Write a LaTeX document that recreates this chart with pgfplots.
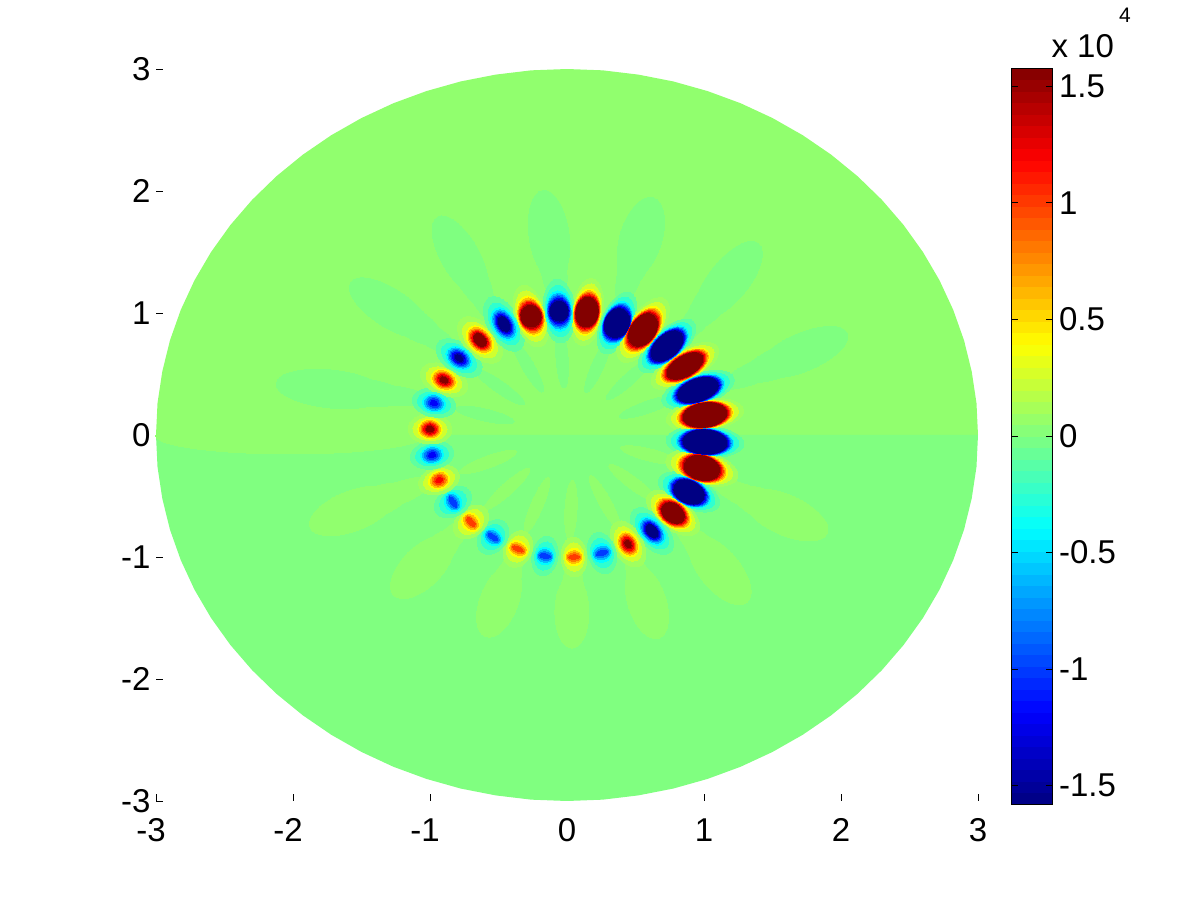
\documentclass[border=0pt]{standalone}
\usepackage{pgfplots}
\usepackage{fontspec}
\setmainfont{Liberation Sans}
\pgfplotsset{compat=1.18}

% background levels of the two half disks
\definecolor{uppergreen}{RGB}{145,255,110}
\definecolor{lowergreen}{RGB}{128,255,128}

% faint lobes outside and inside the ring: x y z a b r (a, b in px along/across r)
\pgfplotstableread{
x y z a b r
-0.131 1.639 0 45 20 98
-0.116 1.520 0 38 16 98
-0.102 1.402 0 40 13 98
0.540 1.615 0 42 21 73
0.503 1.483 0 36 16 73
0.467 1.352 0 35 12 73
1.182 1.270 0 47 20 51
1.087 1.143 0 42 16 51
0.993 1.016 0 42 12 51
1.723 0.680 0 48 19 23
1.566 0.606 0 42 15 23
1.409 0.533 0 42 11 23
-0.781 1.467 0 45 19 120
-0.711 1.323 0 40 15 120
-0.642 1.180 0 40 11 120
-1.292 1.041 0 47 19 147
-1.160 0.942 0 42 15 147
-1.029 0.844 0 42 11 147
-1.723 0.377 0 55 19 174
-1.522 0.352 0 48 14 174
-1.321 0.328 0 45 10 174
-1.569 -0.623 0.055 45 20 21
-1.416 -0.557 0.055 40 15 21
-1.263 -0.492 0.055 42 11 21
-1.058 -1.082 0.055 40 20 45
-0.974 -0.987 0.055 34 15 45
-0.891 -0.893 0.055 35 11 45
-0.496 -1.361 0.055 38 19 69
-0.456 -1.238 0.055 30 14 69
-0.416 -1.115 0.055 30 10 69
0.036 -1.451 0.055 36 17 90
0.040 -1.340 0.055 28 13 90
0.044 -1.230 0.055 25 10 90
0.584 -1.369 0.055 38 19 -72
0.551 -1.262 0.055 30 14 -72
0.518 -1.156 0.055 30 10 -72
1.117 -1.107 0.055 42 20 -50
1.036 -1.004 0.055 35 15 -50
0.956 -0.902 0.055 35 11 -50
1.599 -0.656 0.055 45 20 -24
1.467 -0.586 0.055 38 15 -24
1.336 -0.516 0.055 40 11 -24
-2.022 -0.008 0.055 134 18 0
-0.036 0.631 0 30 6 94
-0.285 0.566 0 30 6 120
-0.489 0.393 0 30 6 145
-0.599 0.164 0 30 6 167
0.226 0.574 0 30 6 66
0.453 0.459 0 30 6 42
0.591 0.230 0 30 6 19
0.029 -0.615 0.055 30 6 87
-0.219 -0.574 0.055 30 6 -113
-0.438 -0.443 0.055 30 6 -138
-0.577 -0.221 0.055 30 6 -160
0.277 -0.549 0.055 30 6 -61
0.482 -0.393 0.055 30 6 -37
0.606 -0.164 0.055 30 6 -14
}\lobes

% ring of blobs, contour by contour from the outside in
\pgfplotstableread{
x y z a b r
0.146 1.008 0.1 34 16 81
0.365 0.918 -0.1 33 16 66
0.555 0.861 0.1 38 17 54
0.730 0.730 -0.1 36 16 42
0.861 0.566 0.1 38 16 30
0.956 0.369 -0.1 38 16 19
1.007 0.164 0.1 39 16 8
1.007 -0.057 -0.1 39 16 -3
0.985 -0.270 0.1 37 17 -14
0.891 -0.467 -0.1 33 16 -25
0.774 -0.639 0.1 31 16 -37
0.620 -0.787 -0.1 28 15 -49
0.445 -0.893 0.1 25 15 -61
0.255 -0.967 -0.1 21 14 -74
0.051 -1.000 0.1 20 13 -87
-0.161 -0.992 -0.1 20 13 -100
-0.358 -0.934 0.1 19 14 -113
-0.540 -0.836 -0.1 19 14 -126
-0.701 -0.713 0.1 20 14 -138
-0.832 -0.549 -0.1 20 14 -149
-0.934 -0.369 0.1 21 14 -160
-0.985 -0.164 -0.1 22 14 -171
-1.000 0.049 0.1 22 15 178
-0.971 0.262 -0.1 22 14 167
-0.898 0.451 0.1 25 15 156
-0.788 0.631 -0.1 26 15 145
-0.635 0.779 0.1 28 16 133
-0.460 0.910 -0.1 30 16 120
-0.263 0.975 0.1 32 16 107
-0.058 1.016 -0.1 32 16 94
0.146 1.008 0.25 28.4 14.2 81
0.365 0.918 -0.25 27.6 14.4 66
0.555 0.861 0.25 32.2 15.2 54
0.730 0.730 -0.25 30.8 14.2 42
0.861 0.566 0.25 32.6 14 30
0.956 0.369 -0.25 32.8 14.2 19
1.007 0.164 0.25 33.8 14.4 8
1.007 -0.057 -0.25 33.8 14.4 -3
0.985 -0.270 0.25 31.4 15.2 -14
0.891 -0.467 -0.25 27.8 14.2 -25
0.774 -0.639 0.25 25.5 13.8 -37
0.620 -0.787 -0.25 21.5 11.8 -49
0.445 -0.893 0.25 18.8 11.6 -61
0.255 -0.967 -0.25 15 11 -74
0.051 -1.000 0.25 14.3 10.2 -87
-0.161 -0.992 -0.25 14.3 10.2 -100
-0.358 -0.934 0.25 13.5 11 -113
-0.540 -0.836 -0.25 13.5 11 -126
-0.701 -0.713 0.25 14.3 11 -138
-0.832 -0.549 -0.25 14.3 11 -149
-0.934 -0.369 0.25 16 10.5 -160
-0.985 -0.164 -0.25 16.8 10.5 -171
-1.000 0.049 0.25 17.1 11.6 178
-0.971 0.262 -0.25 16.8 10.5 167
-0.898 0.451 0.25 18.8 11.6 156
-0.788 0.631 -0.25 19.6 11.6 145
-0.635 0.779 0.25 21.5 12.6 133
-0.460 0.910 -0.25 23.2 12.6 120
-0.263 0.975 0.25 26 14 107
-0.058 1.016 -0.25 25.8 13.8 94
0.146 1.008 0.4 23.3 13.6 81
0.365 0.918 -0.4 22.7 13.9 66
0.555 0.861 0.4 27 14.6 54
0.730 0.730 -0.4 26 13.6 42
0.861 0.566 0.4 27.7 13.2 30
0.956 0.369 -0.4 28 13.6 19
1.007 0.164 0.4 29 13.9 8
1.007 -0.057 -0.4 29 13.9 -3
0.985 -0.270 0.4 26.3 14.6 -14
0.891 -0.467 -0.4 23 13.6 -25
0.774 -0.639 0.4 20.5 12.8 -37
0.620 -0.787 -0.4 16.3 10.4 -49
0.445 -0.893 0.4 13.7 10.1 -61
0.255 -0.967 -0.4 9.3 9.8 -74
0.051 -1.000 0.4 8.7 9 -87
-0.161 -0.992 -0.4 8.7 9 -100
-0.358 -0.934 0.4 8.1 9.8 -113
-0.540 -0.836 -0.4 8.1 9.8 -126
-0.701 -0.713 0.4 8.7 9.8 -138
-0.832 -0.549 -0.4 8.7 9.8 -149
-0.934 -0.369 0.4 10.9 8.8 -160
-0.985 -0.164 -0.4 11.6 8.8 -171
-1.000 0.049 0.4 12.2 10.1 178
-0.971 0.262 -0.4 11.6 8.8 167
-0.898 0.451 0.4 13.7 10.1 156
-0.788 0.631 -0.4 14.4 10.1 145
-0.635 0.779 0.4 16.3 11.1 133
-0.460 0.910 -0.4 17.8 11.1 120
-0.263 0.975 0.4 20.6 13.2 107
-0.058 1.016 -0.4 20.2 12.8 94
0.146 1.008 0.6 21.5 13 81
0.365 0.918 -0.6 21 13.5 66
0.555 0.861 0.6 25 14 54
0.730 0.730 -0.6 24.5 13 42
0.861 0.566 0.6 26 12.5 30
0.956 0.369 -0.6 26.5 13 19
1.007 0.164 0.6 27.5 13.5 8
1.007 -0.057 -0.6 27.5 13.5 -3
0.985 -0.270 0.6 24.5 14 -14
0.891 -0.467 -0.6 21.5 13 -25
0.774 -0.639 0.6 18.8 12 -37
0.620 -0.787 -0.6 14.3 9.1 -49
0.445 -0.893 0.6 11.8 8.7 -61
0.255 -0.967 -0.6 6.7 8.5 -74
0.051 -1.000 0.6 6.3 7.8 -87
-0.161 -0.992 -0.6 6.3 7.8 -100
-0.358 -0.934 0.6 5.9 8.5 -113
-0.540 -0.836 -0.6 5.9 8.5 -126
-0.701 -0.713 0.6 6.3 8.5 -138
-0.832 -0.549 -0.6 6.3 8.5 -149
-0.934 -0.369 0.6 9 7.3 -160
-0.985 -0.164 -0.6 9.5 7.3 -171
-1.000 0.049 0.6 10.5 8.7 178
-0.971 0.262 -0.6 9.5 7.3 167
-0.898 0.451 0.6 11.8 8.7 156
-0.788 0.631 -0.6 12.4 8.7 145
-0.635 0.779 0.6 14.3 9.8 133
-0.460 0.910 -0.6 15.6 9.8 120
-0.263 0.975 0.6 18.5 12.5 107
-0.058 1.016 -0.6 18 12 94
0.146 1.008 0.8 19.9 12.5 81
0.365 0.918 -0.8 19.6 13.1 66
0.555 0.861 0.8 23.3 13.5 54
0.730 0.730 -0.8 23.2 12.5 42
0.861 0.566 0.8 24.6 11.9 30
0.956 0.369 -0.8 25.2 12.5 19
1.007 0.164 0.8 26.2 13.1 8
1.007 -0.057 -0.8 26.2 13.1 -3
0.985 -0.270 0.8 22.9 13.5 -14
0.891 -0.467 -0.8 20.2 12.5 -25
0.774 -0.639 0.8 17.3 11.3 -37
0.620 -0.787 -0.8 12.5 8 -49
0.445 -0.893 0.8 10 7.4 -61
0.255 -0.967 -0.8 4.5 7.2 -74
0.051 -1.000 0.8 4.2 6.6 -87
-0.161 -0.992 -0.8 4.2 6.6 -100
-0.358 -0.934 0.8 3.9 7.2 -113
-0.540 -0.836 -0.8 3.9 7.2 -126
-0.701 -0.713 0.8 4.2 7.2 -138
-0.832 -0.549 -0.8 4.2 7.2 -149
-0.934 -0.369 0.8 7.2 5.9 -160
-0.985 -0.164 -0.8 7.7 5.9 -171
-1.000 0.049 0.8 9 7.4 178
-0.971 0.262 -0.8 7.7 5.9 167
-0.898 0.451 0.8 10 7.4 156
-0.788 0.631 -0.8 10.6 7.4 145
-0.635 0.779 0.8 12.5 8.6 133
-0.460 0.910 -0.8 13.7 8.6 120
-0.263 0.975 0.8 16.7 11.9 107
-0.058 1.016 -0.8 16.1 11.3 94
0.146 1.008 1 18.6 12.1 81
0.365 0.918 -1 18.4 12.8 66
0.555 0.861 1 21.9 13.1 54
0.730 0.730 -1 22.1 12.1 42
0.861 0.566 1 23.4 11.4 30
0.956 0.369 -1 24.1 12.1 19
1.007 0.164 1 25.1 12.8 8
1.007 -0.057 -1 25.1 12.8 -3
0.985 -0.270 1 21.6 13.1 -14
0.891 -0.467 -1 19.1 12.1 -25
0.774 -0.639 1 16 10.7 -37
0.620 -0.787 -1 11 7 -49
0.445 -0.893 1 8.6 6.3 -61
0.255 -0.967 -1 2.6 5.9 -74
0.051 -1.000 1 2.4 5.4 -87
-0.161 -0.992 -1 2.4 5.4 -100
-0.358 -0.934 1 2.2 5.9 -113
-0.540 -0.836 -1 2.2 5.9 -126
-0.701 -0.713 1 2.4 5.9 -138
-0.832 -0.549 -1 2.4 5.9 -149
-0.934 -0.369 1 5.4 4.4 -160
-0.985 -0.164 -1 5.8 4.4 -171
-1.000 0.049 1 7.7 6.3 178
-0.971 0.262 -1 5.8 4.4 167
-0.898 0.451 1 8.6 6.3 156
-0.788 0.631 -1 9 6.3 145
-0.635 0.779 1 11 7.5 133
-0.460 0.910 -1 12 7.5 120
-0.263 0.975 1 15.2 11.4 107
-0.058 1.016 -1 14.5 10.7 94
0.146 1.008 1.2 17.3 11.7 81
0.365 0.918 -1.2 17.2 12.5 66
0.555 0.861 1.2 20.5 12.7 54
0.730 0.730 -1.2 21 11.7 42
0.861 0.566 1.2 22.2 10.9 30
0.956 0.369 -1.2 23 11.7 19
1.007 0.164 1.2 24 12.5 8
1.007 -0.057 -1.2 24 12.5 -3
0.985 -0.270 1.2 20.3 12.7 -14
0.891 -0.467 -1.2 18 11.7 -25
0.774 -0.639 1.2 14.8 10.1 -37
0.620 -0.787 -1.2 9.7 6.2 -49
0.445 -0.893 1.2 7 5.2 -61
-0.934 -0.369 1.2 3.4 2.7 -160
-0.985 -0.164 -1.2 3.6 2.7 -171
-1.000 0.049 1.2 6.3 5.2 178
-0.971 0.262 -1.2 3.6 2.7 167
-0.898 0.451 1.2 7 5.2 156
-0.788 0.631 -1.2 7.4 5.2 145
-0.635 0.779 1.2 9.7 6.6 133
-0.460 0.910 -1.2 10.6 6.6 120
-0.263 0.975 1.2 13.7 10.9 107
-0.058 1.016 -1.2 12.9 10.1 94
0.146 1.008 1.4 16.2 11.4 81
0.365 0.918 -1.4 16.1 12.3 66
0.555 0.861 1.4 19.3 12.4 54
0.730 0.730 -1.4 20 11.4 42
0.861 0.566 1.4 21.1 10.5 30
0.956 0.369 -1.4 22 11.4 19
1.007 0.164 1.4 23 12.3 8
1.007 -0.057 -1.4 23 12.3 -3
0.985 -0.270 1.4 19.2 12.4 -14
0.891 -0.467 -1.4 17 11.4 -25
0.774 -0.639 1.4 13.6 9.5 -37
0.620 -0.787 -1.4 8.4 5.3 -49
0.445 -0.893 1.4 5.5 4.1 -61
-1.000 0.049 1.4 4.9 4.1 178
-0.898 0.451 1.4 5.5 4.1 156
-0.788 0.631 -1.4 5.8 4.1 145
-0.635 0.779 1.4 8.4 5.7 133
-0.460 0.910 -1.4 9.1 5.7 120
-0.263 0.975 1.4 12.4 10.5 107
-0.058 1.016 -1.4 11.4 9.5 94
0.146 1.008 1.57 15 11 81
0.365 0.918 -1.57 15 12 66
0.555 0.861 1.57 18 12 54
0.730 0.730 -1.57 19 11 42
0.861 0.566 1.57 20 10 30
0.956 0.369 -1.57 21 11 19
1.007 0.164 1.57 22 12 8
1.007 -0.057 -1.57 22 12 -3
0.985 -0.270 1.57 18 12 -14
0.891 -0.467 -1.57 16 11 -25
0.774 -0.639 1.57 12.5 9 -37
0.620 -0.787 -1.57 7.3 4.6 -49
0.445 -0.893 1.57 4 2.9 -61
-1.000 0.049 1.57 3.6 2.9 178
-0.898 0.451 1.57 4 2.9 156
-0.788 0.631 -1.57 4.2 2.9 145
-0.635 0.779 1.57 7.3 5 133
-0.460 0.910 -1.57 7.9 5 120
-0.263 0.975 1.57 11 10 107
-0.058 1.016 -1.57 10 9 94
}\blobs

\pgfplotsset{
  every tick label/.append style={font=\fontsize{33}{36}\selectfont},
  contour marks/.style={
    scatter, only marks, mark=*, mark size=1pt,
    scatter src=explicit,
    scatter/use mapped color={draw=mapped color, fill=mapped color, line width=0pt},
    visualization depends on={\thisrow{a} \as \va},
    visualization depends on={\thisrow{b} \as \vb},
    visualization depends on={\thisrow{r} \as \vr},
    scatter/@pre marker code/.append style={/tikz/rotate=\vr, /tikz/xscale=\va, /tikz/yscale=\vb},
  },
}

\begin{document}
\begin{tikzpicture}
\path[use as bounding box] (0pt,0pt) rectangle (1200pt,900pt);
\begin{axis}[
    at={(156pt,99pt)},
    anchor=south west,
    scale only axis,
    width=822pt,
    height=732pt,
    xmin=-3, xmax=3,
    ymin=-3, ymax=3,
    colormap/jet,
    point meta min=-1.578,
    point meta max=1.578,
    axis line style={draw=none},
    tick align=inside,
    xtick pos=bottom,
    ytick pos=left,
    major tick length=7pt,
    tick style={black, line width=0.7pt},
    xtick={-3,-2,-1,0,1,2,3},
    ytick={-3,-2,-1,0,1,2,3},
    xticklabels={\kern-10pt-3,\kern-10pt-2,\kern-10pt-1,0,1,2,3},
    yticklabels={-3,-2,-1,0,1,2,3},
    xticklabel style={yshift=-14pt},
    yticklabel style={xshift=-2pt},
    colorbar sampled,
    colorbar style={
      samples=65,
      at={(parent axis.right of north east)},
      anchor=north west,
      xshift=12pt,
      yshift=1pt,
      scale only axis,
      width=41.5pt,
      height=736pt,
      ytick={-1.5,-1,-0.5,0,0.5,1,1.5},
      yticklabels={-1.5,-1,-0.5,0,0.5,1,1.5},
      xtick=\empty,
      ytick pos=both,
      yticklabel pos=right,
      tick align=inside,
      major tick length=7pt,
      axis line style={black, line width=0.7pt},
      yticklabel style={xshift=3pt},
    },
]
% upper half of the disk
\addplot[draw=none, fill=uppergreen] coordinates {
(3.000,0) (2.989,0.261) (2.954,0.521) (2.898,0.776) (2.819,1.026) (2.719,1.268)
(2.598,1.500) (2.457,1.721) (2.298,1.928) (2.121,2.121) (1.928,2.298) (1.721,2.457)
(1.500,2.598) (1.268,2.719) (1.026,2.819) (0.776,2.898) (0.521,2.954) (0.261,2.989)
(0,3.000) (-0.261,2.989) (-0.521,2.954) (-0.776,2.898) (-1.026,2.819) (-1.268,2.719)
(-1.500,2.598) (-1.721,2.457) (-1.928,2.298) (-2.121,2.121) (-2.298,1.928) (-2.457,1.721)
(-2.598,1.500) (-2.719,1.268) (-2.819,1.026) (-2.898,0.776) (-2.954,0.521) (-2.989,0.261)
(-3.000,0)
} \closedcycle;
% lower half
\addplot[draw=none, fill=lowergreen] coordinates {
(3.000,0) (2.989,-0.261) (2.954,-0.521) (2.898,-0.776) (2.819,-1.026) (2.719,-1.268)
(2.598,-1.500) (2.457,-1.721) (2.298,-1.928) (2.121,-2.121) (1.928,-2.298) (1.721,-2.457)
(1.500,-2.598) (1.268,-2.719) (1.026,-2.819) (0.776,-2.898) (0.521,-2.954) (0.261,-2.989)
(0,-3.000) (-0.261,-2.989) (-0.521,-2.954) (-0.776,-2.898) (-1.026,-2.819) (-1.268,-2.719)
(-1.500,-2.598) (-1.721,-2.457) (-1.928,-2.298) (-2.121,-2.121) (-2.298,-1.928) (-2.457,-1.721)
(-2.598,-1.500) (-2.719,-1.268) (-2.819,-1.026) (-2.898,-0.776) (-2.954,-0.521) (-2.989,-0.261)
(-3.000,0)
} \closedcycle;
\addplot[contour marks] table[x=x, y=y, meta=z] {\lobes};
\addplot[contour marks] table[x=x, y=y, meta=z] {\blobs};
\end{axis}
\node[anchor=base west, font=\fontsize{33}{36}\selectfont] at (1048pt,842pt) {x 10};
\node[anchor=base west, inner sep=0pt, font=\fontsize{21}{24}\selectfont] at (1119pt,877pt) {4};
\end{tikzpicture}
\end{document}
